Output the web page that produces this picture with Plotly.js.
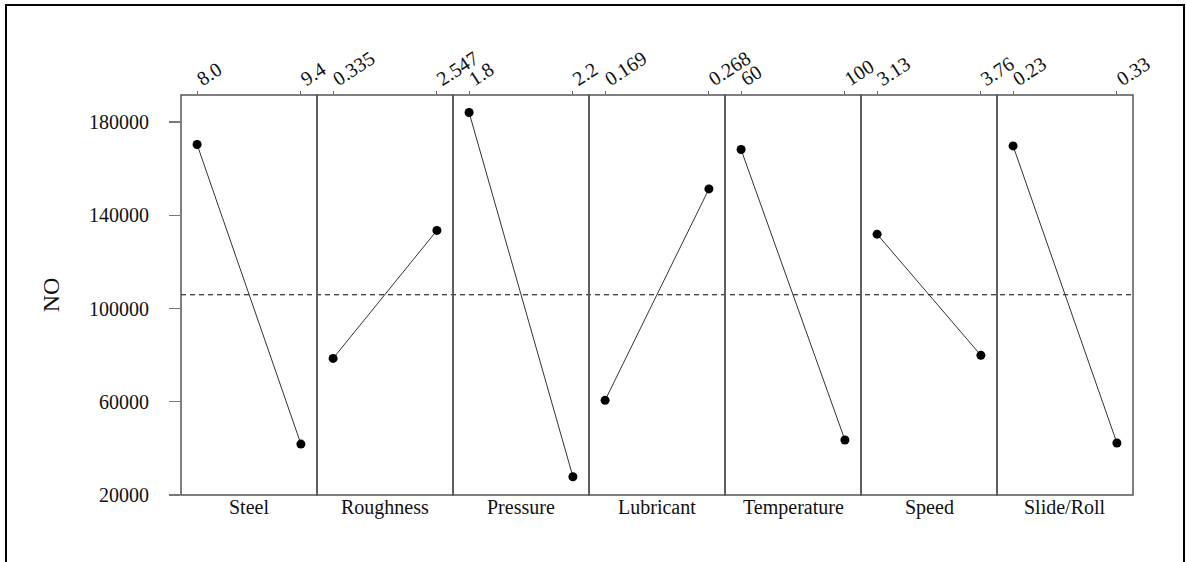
<!DOCTYPE html>
<html>
<head>
<meta charset="utf-8">
<script src="https://cdn.plot.ly/plotly-3.0.1.min.js"></script>
<style>
  html, body { margin: 0; padding: 0; background: #fff; overflow: hidden; }
  #wrap { position: relative; width: 1186px; height: 562px; }
  #frame { position: absolute; left: 5px; top: 4px; width: 1176px; height: 600px; border: 2.5px solid #000; pointer-events: none; z-index: 5; }
  #chart { position: absolute; left: 0; top: 0; width: 1186px; height: 562px; }
</style>
</head>
<body>
<div id="wrap"><div id="chart"></div><div id="frame"></div></div>
<script>
// ---- data ----
var factors = ["Steel", "Roughness", "Pressure", "Lubricant", "Temperature", "Speed", "Slide/Roll"];
var levelLabels = [
  ["8.0", "9.4"],
  ["0.335", "2.547"],
  ["1.8", "2.2"],
  ["0.169", "0.268"],
  ["60", "100"],
  ["3.13", "3.76"],
  ["0.23", "0.33"]
];
var lowLevelMeans  = [170350, 78600, 184100, 60600, 168200, 131900, 169750];
var highLevelMeans = [41850, 133500, 27850, 151300, 43600, 79900, 42300];
var grandMean = 105900;
var yTicks = [20000, 60000, 100000, 140000, 180000];

var FONT = '"Liberation Serif", "Times New Roman", serif';
var n = factors.length;
var traces = [];
var shapes = [];
var annotations = [];
var layout = {
  width: 1186, height: 562,
  margin: {l: 181, r: 53, t: 95, b: 67, pad: 0},
  paper_bgcolor: '#fff', plot_bgcolor: '#fff',
  showlegend: false,
  font: {family: FONT, color: '#111', size: 20},
  yaxis: {
    range: [20000, 191600],
    tickvals: yTicks,
    ticktext: yTicks.map(String),
    ticks: 'outside', ticklen: 11, tickcolor: '#777', tickwidth: 1.2,
    ticklabelstandoff: 16,
    showgrid: false, zeroline: false, showline: false,
    tickfont: {family: FONT, size: 20, color: '#111'},
    title: {text: 'NO', font: {family: FONT, size: 24, color: '#111'}, standoff: 22},
    anchor: 'x'
  }
};

for (var i = 0; i < n; i++) {
  var ax = i === 0 ? 'x' : 'x' + (i + 1);
  var axKey = i === 0 ? 'xaxis' : 'xaxis' + (i + 1);
  traces.push({
    x: [0, 1],
    y: [lowLevelMeans[i], highLevelMeans[i]],
    xaxis: ax, yaxis: 'y',
    mode: 'lines+markers',
    line: {color: '#333', width: 1},
    marker: {color: '#000', size: 9},
    hoverinfo: 'x+y'
  });
  layout[axKey] = {
    domain: [i / n, (i + 1) / n],
    range: [-0.155, 1.155],
    side: 'top',
    anchor: 'y',
    tickvals: [0, 1],
    ticktext: levelLabels[i],
    tickangle: -33,
    ticks: 'outside', ticklen: 3, tickcolor: '#666', tickwidth: 1,
    ticklabelstandoff: -5,
    tickfont: {family: FONT, size: 20, color: '#111'},
    showgrid: false, zeroline: false, showline: false,
    fixedrange: true
  };
  shapes.push({
    type: 'rect', xref: ax + ' domain', yref: 'y domain',
    x0: 0, x1: 1, y0: 0, y1: 1,
    line: {color: '#555', width: 1.5}, fillcolor: 'rgba(0,0,0,0)', layer: 'above'
  });
  annotations.push({
    text: factors[i], xref: ax + ' domain', yref: 'paper',
    x: 0.5, y: 0, xanchor: 'center', yanchor: 'top', yshift: 1,
    showarrow: false, font: {family: FONT, size: 20, color: '#111'}
  });
}

shapes.push({
  type: 'line', xref: 'paper', yref: 'y',
  x0: 0, x1: 1, y0: grandMean, y1: grandMean,
  line: {color: '#000', width: 1, dash: '5px,4px'}, layer: 'below'
});

layout.shapes = shapes;
layout.annotations = annotations;

Plotly.newPlot('chart', traces, layout, {displayModeBar: false, staticPlot: true});
</script>
</body>
</html>
